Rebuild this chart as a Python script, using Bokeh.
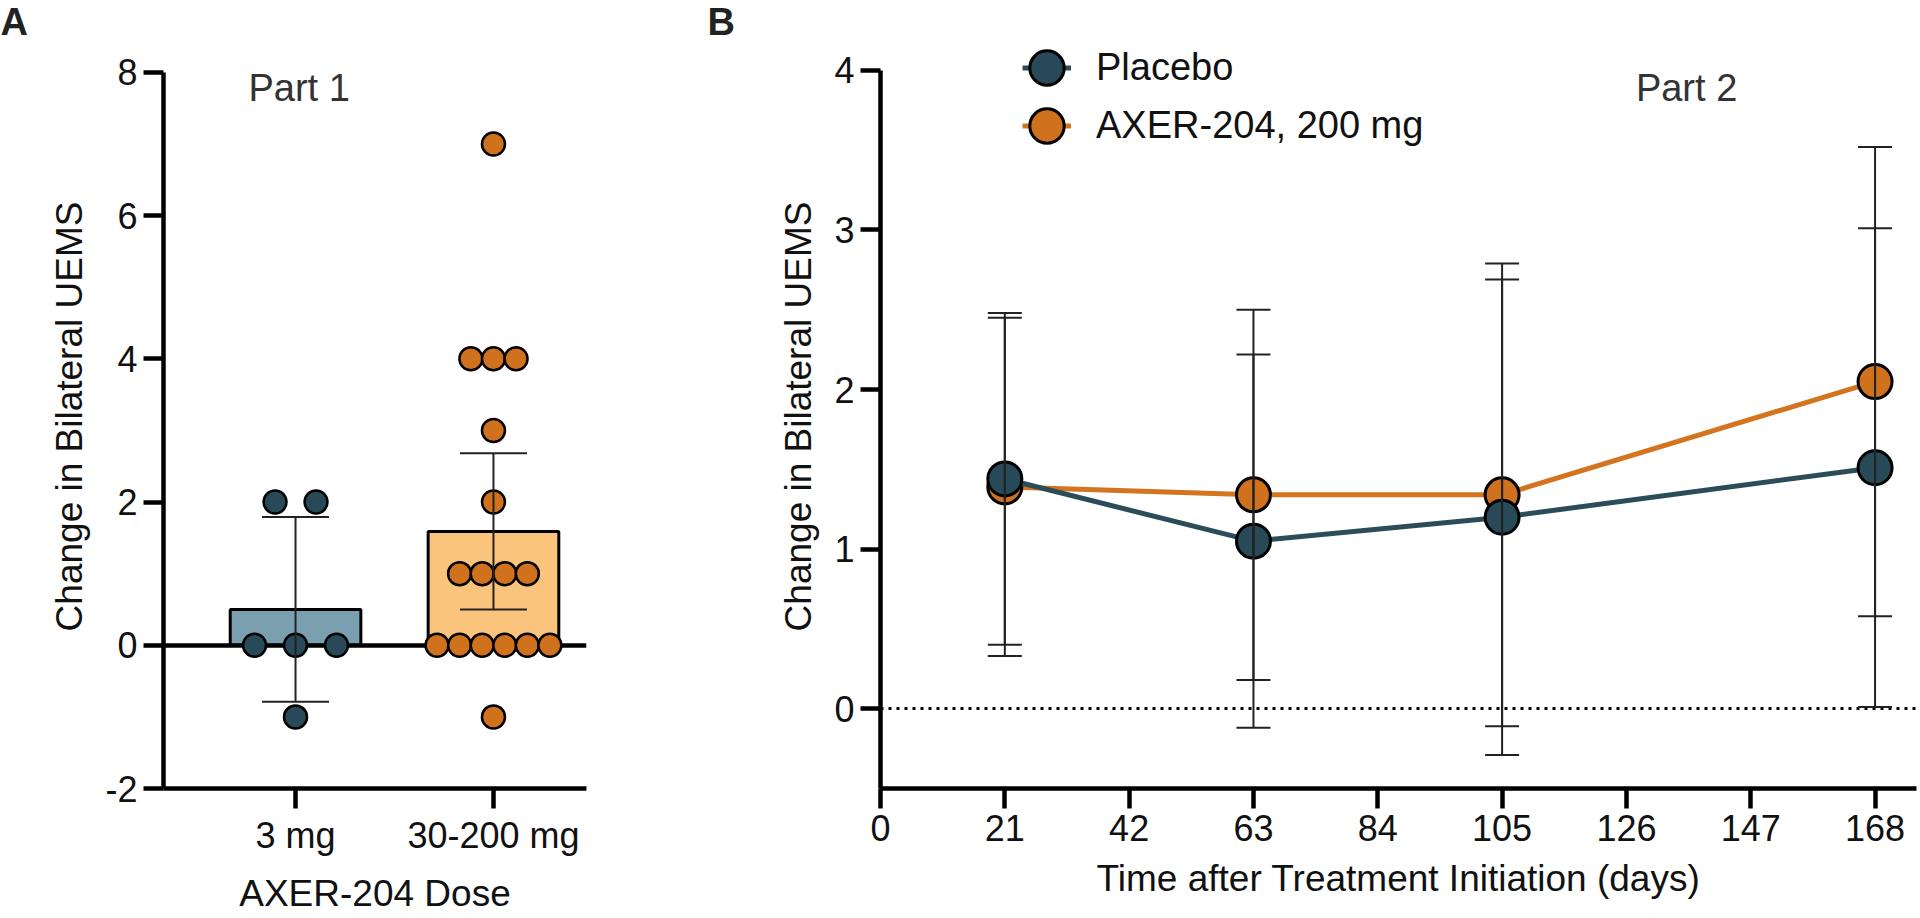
from bokeh.plotting import figure
from bokeh.models import (Range1d, Label, Whisker, TeeHead, ColumnDataSource,
                          Legend, LegendItem)
from bokeh.layouts import row
from bokeh.embed import file_html
from bokeh.resources import INLINE

# ---------------- data ----------------
dose_labels = ["3 mg", "30-200 mg"]
low_dose_values = [2, 2, 0, 0, 0, -1]
high_dose_values = [7, 4, 4, 4, 3, 2, 1, 1, 1, 1, 0, 0, 0, 0, 0, 0, -1]
bar_means = [0.5, 1.59]
bar_ci = [1.29, 1.09]
a_ticks = [-2, 0, 2, 4, 6, 8]

days = [21, 63, 105, 168]
day_ticks = [0, 21, 42, 63, 84, 105, 126, 147, 168]
b_ticks = [0, 1, 2, 3, 4]
placebo_mean = [1.44, 1.05, 1.20, 1.51]
placebo_err = [1.04, 1.17, 1.49, 1.50]
axer_mean = [1.39, 1.34, 1.34, 2.05]
axer_err = [1.06, 1.16, 1.45, 1.47]

FONT = "Liberation Sans"
TEAL = "#284a58"
TEAL_LINE = "#2c4c59"
ORANGE = "#d0711d"
ORANGE_LINE = "#d4741f"
BAR_BLUE = "#7a9faf"
BAR_ORANGE = "#fbc47d"


def spread(values, center, spacing):
    """Place equal values side by side, centred on the category."""
    xs = []
    counts = {}
    for v in values:
        counts[v] = counts.get(v, 0) + 1
    seen = {}
    for v in values:
        i = seen.get(v, 0)
        seen[v] = i + 1
        xs.append(center + (i - (counts[v] - 1) / 2) * spacing)
    return xs


def style_axes(p):
    p.grid.visible = False
    p.outline_line_color = None
    for ax in (p.xaxis[0], p.yaxis[0]):
        ax.axis_line_width = 4.5
        ax.axis_line_color = "black"
        ax.major_tick_line_width = 4.5
        ax.major_tick_line_color = "black"
        ax.major_tick_out = 20
        ax.major_tick_in = 0
        ax.minor_tick_line_color = None
        ax.major_label_text_font = FONT
        ax.major_label_text_font_size = "36px"
        ax.major_label_text_color = "#111111"
        ax.axis_label_text_font = FONT
        ax.axis_label_text_font_size = "37px"
        ax.axis_label_text_font_style = "normal"
        ax.axis_label_text_color = "#111111"
    p.xaxis.major_label_standoff = 6
    p.xaxis.axis_label_standoff = 14
    p.yaxis.major_label_standoff = 6
    p.yaxis.axis_label_standoff = 12


def panel_title(p, text, offset):
    p.title.text = text
    p.title.align = "left"
    p.title.vertical_align = "top"
    p.title.offset = offset
    p.title.standoff = 0
    p.title.text_font = FONT
    p.title.text_font_size = "38px"
    p.title.text_font_style = "bold"
    p.title.text_color = "#222222"


# ---------------- panel A ----------------
pa = figure(width=640, height=916, x_range=Range1d(0.333, 2.47),
            y_range=Range1d(-2, 8.388), output_backend="svg",
            toolbar_location=None, min_border_left=163,
            min_border_right=54, min_border_top=42, min_border_bottom=125)
style_axes(pa)
panel_title(pa, "A", -163)
pa.yaxis.bounds = (a_ticks[0], a_ticks[-1])
pa.yaxis.ticker = a_ticks
pa.yaxis.major_label_overrides = {t: str(t) for t in a_ticks}
pa.xaxis.ticker = [1, 2]
pa.xaxis.major_label_overrides = {i + 1: lab for i, lab in enumerate(dose_labels)}
pa.xaxis.axis_label = "AXER-204 Dose"
pa.yaxis.axis_label = "Change in Bilateral UEMS"

pa.vbar(x=[1, 2], top=bar_means, bottom=0, width=0.66,
        fill_color=[BAR_BLUE, BAR_ORANGE], line_color="black", line_width=3)
pa.hspan(y=[0], line_color="black", line_width=4.5)

pa.scatter(spread(low_dose_values, 1, 0.207), low_dose_values, size=23,
           fill_color=TEAL, line_color="black", line_width=2.5)
pa.scatter(spread(high_dose_values, 2, 0.114), high_dose_values, size=23,
           fill_color=ORANGE, line_color="black", line_width=2.5)

src_a = ColumnDataSource(dict(
    x=[1, 2],
    upper=[m + e for m, e in zip(bar_means, bar_ci)],
    lower=[m - e for m, e in zip(bar_means, bar_ci)]))
pa.add_layout(Whisker(source=src_a, base="x", upper="upper", lower="lower",
                      line_width=2, line_color="#222222", level="annotation",
                      upper_head=TeeHead(size=67, line_width=2, line_color="#222222"),
                      lower_head=TeeHead(size=67, line_width=2, line_color="#222222")))

pa.add_layout(Label(x=0.762, y=7.78, text="Part 1", text_baseline="alphabetic",
                    text_font=FONT, text_font_size="38px",
                    text_color="#333333"))

# ---------------- panel B ----------------
pb = figure(width=1278, height=916, x_range=Range1d(0, 175),
            y_range=Range1d(-0.5, 4.162), output_backend="svg",
            toolbar_location=None, min_border_left=240,
            min_border_right=2, min_border_top=42, min_border_bottom=125)
style_axes(pb)
panel_title(pb, "B", -173)
pb.yaxis.bounds = (-0.5, b_ticks[-1])
pb.yaxis.ticker = b_ticks
pb.xaxis.ticker = day_ticks
pb.xaxis.axis_label = "Time after Treatment Initiation (days)"
pb.yaxis.axis_label = "Change in Bilateral UEMS"

pb.hspan(y=[0], line_color="black", line_width=3, line_dash="3 5")

ax_line = pb.line(days, axer_mean, line_color=ORANGE_LINE, line_width=5)
ax_pts = pb.ellipse(x=days, y=axer_mean, width=34, height=34,
                    width_units="screen", height_units="screen",
                    fill_color=ORANGE, line_color="black", line_width=3)
pl_line = pb.line(days, placebo_mean, line_color=TEAL_LINE, line_width=5)
pl_pts = pb.ellipse(x=days, y=placebo_mean, width=34, height=34,
                    width_units="screen", height_units="screen",
                    fill_color=TEAL, line_color="black", line_width=3)

for mean, err in ((axer_mean, axer_err), (placebo_mean, placebo_err)):
    src = ColumnDataSource(dict(
        x=days,
        upper=[m + e for m, e in zip(mean, err)],
        lower=[m - e for m, e in zip(mean, err)]))
    pb.add_layout(Whisker(source=src, base="x", upper="upper", lower="lower",
                          line_width=2, line_color="#222222", level="annotation",
                          upper_head=TeeHead(size=34, line_width=2, line_color="#222222"),
                          lower_head=TeeHead(size=34, line_width=2, line_color="#222222")))

legend = Legend(items=[LegendItem(label="Placebo", renderers=[pl_line, pl_pts]),
                       LegendItem(label="AXER-204, 200 mg", renderers=[ax_line, ax_pts])],
                location=(142, 641), glyph_width=49, glyph_height=43,
                label_standoff=25, spacing=15, padding=0, margin=0,
                border_line_color=None, background_fill_alpha=0,
                label_text_font=FONT, label_text_font_size="38px",
                label_text_color="#111111")
pb.add_layout(legend)

pb.add_layout(Label(x=127.6, y=3.89, text="Part 2", text_baseline="alphabetic",
                    text_font=FONT, text_font_size="38px",
                    text_color="#333333"))

layout = row(pa, pb)
open("out.html", "w").write(file_html(layout, INLINE))
